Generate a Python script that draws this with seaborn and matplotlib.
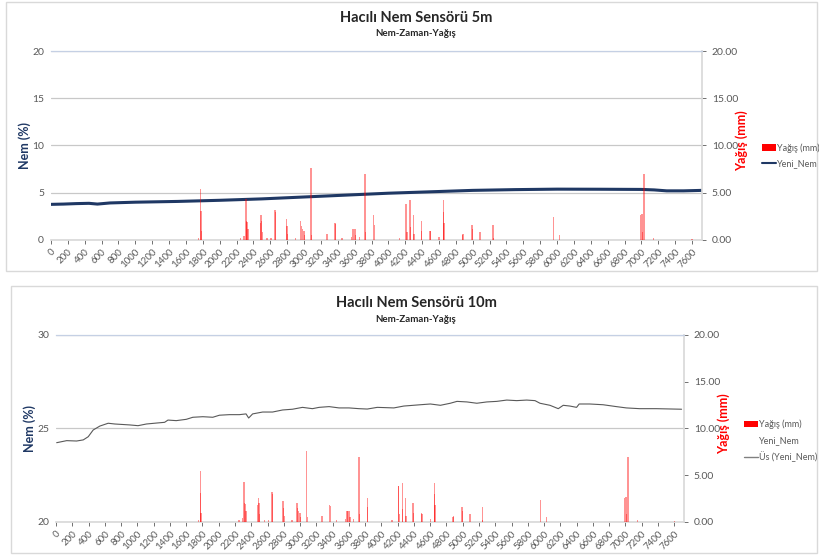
import numpy as np
import pandas as pd
import matplotlib
matplotlib.use("Agg")
import matplotlib.pyplot as plt
from matplotlib.patches import Patch, Rectangle
from matplotlib.lines import Line2D
import seaborn as sns

# Nem (5m) - okunan noktalar
nem5_x = [0, 150, 300, 450, 550, 700, 1000, 1500, 2000, 2500, 3000, 3500, 4000,
          4500, 5000, 5500, 6000, 6500, 7000, 7150, 7300, 7500, 7720]
nem5_val = [3.77, 3.8, 3.85, 3.88, 3.8, 3.92, 4.0, 4.08, 4.2, 4.35, 4.55, 4.75, 4.95,
            5.1, 5.25, 5.33, 5.38, 5.37, 5.35, 5.3, 5.2, 5.2, 5.25]

# Nem (10m) - okunan noktalar
nem10_x = [8, 131, 253, 335, 396, 457, 539, 641, 723, 907, 1008, 1111, 1233, 1335,
           1376, 1478, 1601, 1682, 1805, 1927, 2009, 2132, 2254, 2336, 2368, 2417,
           2540, 2662, 2785, 2907, 3030, 3152, 3234, 3357, 3479, 3602, 3724, 3826,
           3949, 4153, 4275, 4479, 4602, 4725, 4847, 4929, 5051, 5173, 5296, 5418,
           5541, 5663, 5786, 5888, 5949, 6072, 6174, 6235, 6317, 6399, 6431, 6562,
           6725, 6888, 7011, 7174, 7378, 7690]
nem10_val = [24.24, 24.35, 24.33, 24.39, 24.56, 24.92, 25.13, 25.28, 25.24, 25.19,
             25.15, 25.24, 25.29, 25.33, 25.45, 25.42, 25.49, 25.60, 25.63, 25.60,
             25.71, 25.74, 25.74, 25.78, 25.56, 25.78, 25.88, 25.88, 25.99, 26.03,
             26.13, 26.06, 26.13, 26.17, 26.10, 26.10, 26.06, 26.04, 26.13, 26.10,
             26.20, 26.27, 26.31, 26.24, 26.35, 26.45, 26.42, 26.35, 26.42, 26.45,
             26.52, 26.49, 26.52, 26.49, 26.35, 26.24, 26.06, 26.24, 26.20, 26.13,
             26.31, 26.31, 26.27, 26.17, 26.10, 26.06, 26.06, 26.03]

# Yağış (mm)
rain_x = [1750, 1772, 1778, 1782, 2250, 2290, 2311, 2318, 2325, 2335, 2480, 2491,
          2497, 2505, 2560, 2610, 2654, 2660, 2790, 2798, 2805, 2900, 2961, 2968,
          2980, 3000, 3005, 3083, 3090, 3271, 3365, 3372, 3450, 3560, 3577, 3590,
          3605, 3612, 3660, 3724, 3730, 3826, 3832, 4130, 4206, 4214, 4220, 4255,
          4262, 4296, 4302, 4389, 4395, 4492, 4498, 4600, 4651, 4656, 4660, 4880,
          4886, 4990, 4996, 5088, 5239, 5245, 5957, 6031, 6987, 7005, 7016, 7032,
          7146, 7600]
rain_mm = [0.2, 5.4, 3.1, 1.0, 0.2, 0.4, 4.3, 2.0, 1.9, 1.2, 1.8, 2.6,
           2.0, 0.8, 0.2, 0.2, 3.2, 3.0, 2.2, 1.5, 0.6, 0.2, 2.0, 1.5,
           1.2, 1.0, 0.5, 7.6, 0.5, 0.6, 1.8, 1.7, 0.2, 0.3, 1.2, 1.2,
           1.2, 0.5, 0.3, 7.0, 0.8, 2.6, 1.6, 0.2, 3.8, 3.8, 0.8, 4.2,
           1.4, 2.6, 0.6, 2.0, 1.0, 1.0, 0.9, 0.3, 4.2, 3.0, 1.8, 0.5,
           0.6, 1.6, 1.2, 0.8, 1.6, 0.2, 2.4, 0.5, 2.6, 2.7, 0.8, 7.0,
           0.2, 0.1]

x_ticks = list(range(0, 7601, 200))

sns.set_theme(style="white")
plt.rcParams['font.family'] = ['Lato', 'DejaVu Sans']

fig = plt.figure(figsize=(8.19, 5.55), dpi=100)

grid_c = "#C8C8C8"
tick_c = "#595959"


def draw_panel(box, rect, df, line_color, line_w, ylim, yticks, title, subtitle,
               title_y, sub_y, handles, labels, leg_anchor, ylab_x, ylab2_x):
    fig.add_artist(Rectangle((box[0], box[1]), box[2], box[3], transform=fig.transFigure,
                             fill=False, edgecolor="#D9D9D9", linewidth=1.0))
    ax = fig.add_axes(rect)
    ax2 = ax.twinx()
    sns.lineplot(data=df, x="x", y="nem", ax=ax, color=line_color, linewidth=line_w,
                 legend=False)
    ax2.bar(rain_x, rain_mm, width=16, color="red", alpha=0.42, linewidth=0,
            edgecolor="none", antialiased=False)

    ax.set_xlim(0, 7720)
    ax.set_ylim(*ylim)
    ax.set_yticks(yticks)
    ax2.set_ylim(0, 20)
    ax2.set_yticks([0, 5, 10, 15, 20])
    ax2.set_yticklabels([f"{v:.2f}" for v in [0, 5, 10, 15, 20]])
    ax.set_xticks(x_ticks)
    ax.set_xticklabels([str(t) for t in x_ticks], rotation=45, ha="right",
                       rotation_mode="anchor")

    ax.set_xticks(range(1000, 7001, 1000), minor=True)
    ax.grid(False)
    ax2.grid(False)
    ax.yaxis.grid(True, color=grid_c, linewidth=0.9)
    ax.xaxis.grid(True, which="minor", color=grid_c, linewidth=0.9)
    ax.set_axisbelow(True)

    for a in (ax, ax2):
        for s in a.spines.values():
            s.set_visible(False)
    ax.spines["bottom"].set_visible(True)
    ax.spines["bottom"].set_color("#D9D9D9")
    ax2.spines["right"].set_visible(True)
    ax2.spines["right"].set_color("#D9D9D9")
    ax2.spines["top"].set_visible(True)
    ax2.spines["top"].set_color("#C5D0E4")
    ax2.spines["top"].set_linewidth(0.9)

    ax.tick_params(axis="x", which="major", labelsize=7, colors=tick_c, length=3,
                   width=0.6, pad=2, direction="out", bottom=True)
    ax.tick_params(axis="x", which="minor", length=0)
    ax.tick_params(axis="y", labelsize=7.5, colors=tick_c, length=0, pad=5)
    ax2.tick_params(axis="y", labelsize=7.5, colors=tick_c, length=3, width=0.6,
                    direction="out", pad=4)
    for lab in ax.get_xticklabels():
        lab.set_color(tick_c)

    ax.set_xlabel("")
    ax.set_ylabel("")
    fig.text(ylab_x, rect[1] + rect[3] / 2, "Nem (%)", rotation=90, ha="center",
             va="center", color="#1F3864", fontsize=9, fontweight="bold")
    fig.text(ylab2_x, rect[1] + rect[3] / 2 + 0.008, "Yağış (mm)", rotation=90,
             ha="center", va="center", color="red", fontsize=9, fontweight="bold")
    fig.text(0.508, title_y, title, ha="center", va="center", fontsize=10.5,
             fontweight="bold", color="#262626")
    fig.text(0.508, sub_y, subtitle, ha="center", va="center", fontsize=7,
             fontweight="bold", color="#262626")
    fig.legend(handles, labels, loc="upper left", bbox_to_anchor=leg_anchor,
               frameon=False, fontsize=6.5, handlelength=1.6, handletextpad=0.15,
               labelspacing=0.75, labelcolor=tick_c, borderaxespad=0, borderpad=0)
    return ax, ax2


df5 = pd.DataFrame({"x": nem5_x, "nem": nem5_val})
df10 = pd.DataFrame({"x": nem10_x, "nem": nem10_val})

h_top = [Patch(facecolor="red", edgecolor="none"),
         Line2D([], [], color="#1F3864", linewidth=1.5)]
draw_panel((0.0073, 0.5117, 0.990, 0.4847), [0.0623, 0.5676, 0.795, 0.3405], df5,
           "#1F3864", 2.2, (0, 20), [0, 5, 10, 15, 20],
           "Hacılı Nem Sensörü 5m", "Nem-Zaman-Yağış", 0.9675, 0.939,
           h_top, ["Yağış (mm)", "Yeni_Nem"], (0.930, 0.742), 0.030, 0.906)

h_bot = [Patch(facecolor="red", edgecolor="none"),
         Line2D([], [], color="white", linewidth=1.5),
         Line2D([], [], color="#808080", linewidth=1.0)]
draw_panel((0.0134, 0.0036, 0.984, 0.481), [0.0684, 0.0595, 0.7668, 0.3369], df10,
           "#595959", 0.8, (20, 30), [20, 25, 30],
           "Hacılı Nem Sensörü 10m", "Nem-Zaman-Yağış", 0.454, 0.425,
           h_bot, ["Yağış (mm)", "Yeni_Nem", "Üs (Yeni_Nem)"], (0.908, 0.244),
           0.036, 0.884)

fig.savefig("out.png", dpi=100)
